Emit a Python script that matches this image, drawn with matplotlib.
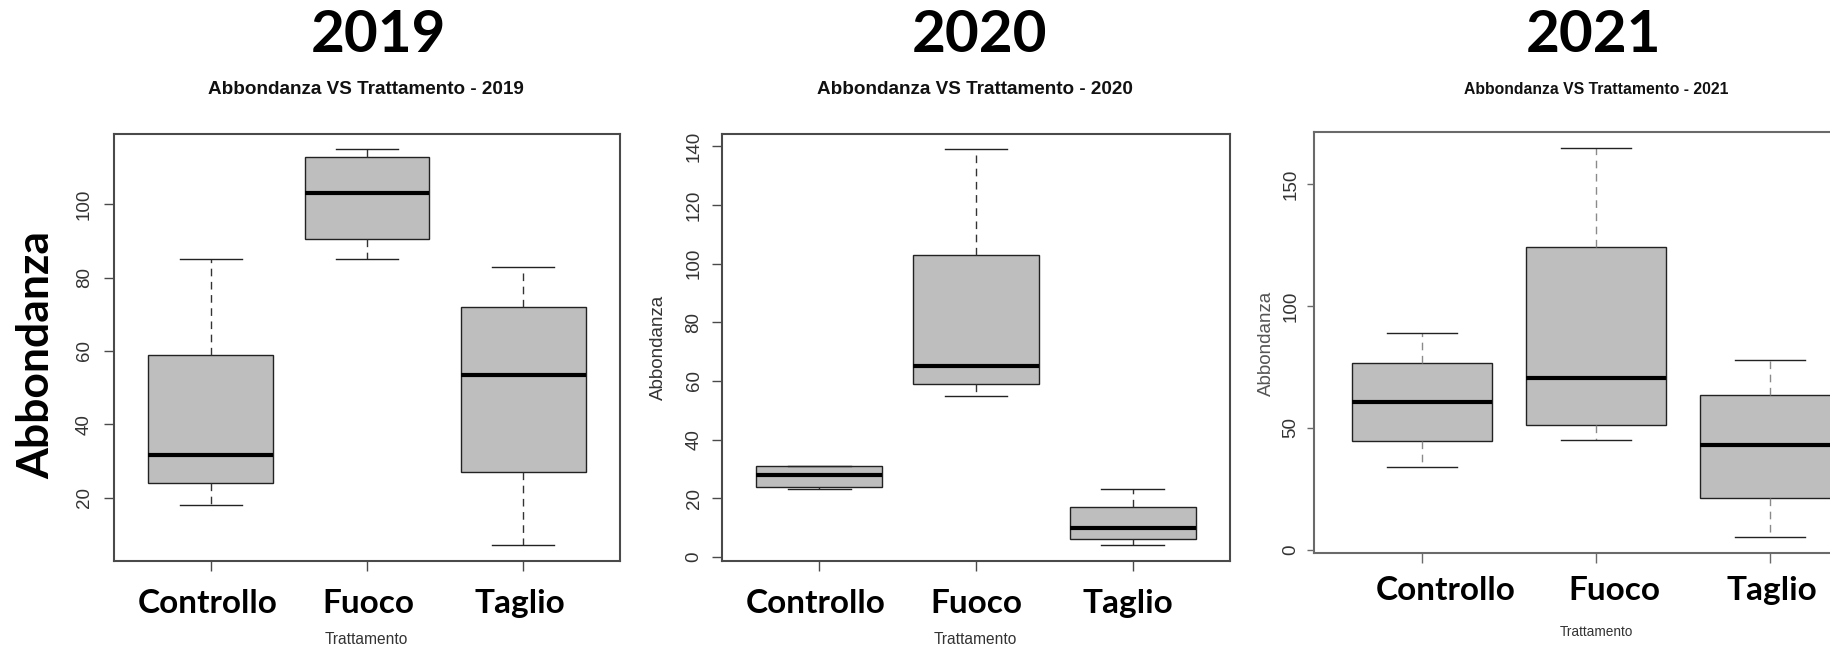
import matplotlib
matplotlib.use('Agg')
import matplotlib.pyplot as plt
from matplotlib import font_manager

# dati: [baffo inf, Q1, mediana, Q3, baffo sup]
years = ['2019', '2020', '2021']
categories = ['Controllo', 'Fuoco', 'Taglio']

box_2019 = [[18, 24, 31.5, 59, 85], [85, 90.5, 103, 113, 115], [7, 27, 53.5, 72, 83]]
box_2020 = [[23, 24, 28, 31, 31], [55, 59, 65, 103, 139], [4, 6, 10, 17, 23]]
box_2021 = [[34, 44.5, 60.5, 76.5, 89], [45, 51, 70.5, 124, 165], [5, 21, 43, 63.5, 78]]

ticks_2019 = [20, 40, 60, 80, 100]
ticks_2020 = [0, 20, 40, 60, 80, 100, 120, 140]
ticks_2021 = [0, 50, 100, 150]

W, H = 1830, 647
fig = plt.figure(figsize=(W / 100, H / 100), dpi=100)

names = {f.name for f in font_manager.fontManager.ttflist}
narrow = 'Liberation Sans Narrow' if 'Liberation Sans Narrow' in names else 'Liberation Sans'
big = 'Lato' if 'Lato' in names else 'DejaVu Sans'
# con il font stretto si puo' usare un corpo piu' grande
k = 1.14 if narrow == 'Liberation Sans Narrow' else 1.0
sub_fs = [13.6 * k, 13.6 * k, 11.3 * k]
trat_fs = [11.2 * k, 11.2 * k, 9.8 * k]

def px(x, y):
    return x / W, 1 - y / H

# (left, right, top, bottom) in pixel, centri titoli, etichette categorie
frames = [(114, 620, 133.5, 561), (722, 1230, 133.5, 561), (1314, 1878, 132, 553)]
title_x = [378, 979, 1593]
sub_x = [366, 975, 1596]
cat_x = [[208, 368, 520], [816, 976, 1128], [1446, 1614, 1772]]
cat_y = [613, 613, 600]
tratt_y = [640, 640, 632]
frame_col = ['#4a4a4a', '#4a4a4a', '#6a6a6a']
whisk_col = ['#333333', '#333333', '#8a8a8a']
ypad = [8.3, 7, 5.4]
ylen = [7, 7, 5]

for i, (year, boxes, ticks) in enumerate(zip(years, [box_2019, box_2020, box_2021],
                                               [ticks_2019, ticks_2020, ticks_2021])):
    l, r, t, b = frames[i]
    ax = fig.add_axes([l / W, 1 - b / H, (r - l) / W, (b - t) / H])
    stats = []
    for lab, (lo, q1, med, q3, hi) in zip(categories, boxes):
        stats.append(dict(label=lab, whislo=lo, q1=q1, med=med, q3=q3, whishi=hi, fliers=[]))
    ax.bxp(stats, positions=[1, 2, 3], widths=0.8, capwidths=0.4, patch_artist=True,
           boxprops=dict(facecolor='#bebebe', edgecolor='#222222', linewidth=1.0),
           medianprops=dict(color='black', linewidth=3.0, solid_capstyle='butt'),
           whiskerprops=dict(color=whisk_col[i], linewidth=1.0, linestyle=(0, (5.5, 4))),
           capprops=dict(color='#222222', linewidth=1.0),
           manage_ticks=False)
    lo = min(s[0] for s in boxes)
    hi = max(s[4] for s in boxes)
    ext = (hi - lo) * 0.04
    ax.set_ylim(lo - ext, hi + ext)
    ax.set_xlim(0.38, 3.62)
    ax.set_xticks([1, 2, 3])
    ax.set_xticklabels([])
    ax.set_yticks(ticks)
    ax.set_yticklabels([str(v) for v in ticks], rotation=90, va='center',
                       fontfamily='Liberation Sans', fontsize=13.5, color='#333333')
    ax.tick_params(axis='y', length=ylen[i], width=1.0, color=frame_col[i], pad=ypad[i])
    ax.tick_params(axis='x', length=7, width=1.0, color=frame_col[i])
    for sp in ax.spines.values():
        sp.set_color(frame_col[i])
        sp.set_linewidth(1.5)

    # titolo grande e sottotitolo
    fig.text(*px(title_x[i], 36), year, ha='center', va='center',
             fontfamily=big, fontweight='bold', fontsize=42)
    fig.text(*px(sub_x[i], 89), 'Abbondanza VS Trattamento - ' + year, ha='center', va='center',
             fontfamily=narrow, fontweight='bold', fontsize=sub_fs[i], color='#111111')
    for x, lab in zip(cat_x[i], categories):
        fig.text(*px(x, cat_y[i]), lab, ha='center', va='baseline',
                 fontfamily=big, fontweight='bold', fontsize=24)
    fig.text(*px(sub_x[i], tratt_y[i]), 'Trattamento', ha='center', va='center',
             fontfamily=narrow, fontsize=trat_fs[i], color='#333333')

fig.text(*px(36, 355), 'Abbondanza', rotation=90, ha='center', va='center',
         fontfamily=big, fontweight='bold', fontsize=32)
fig.text(*px(658, 347), 'Abbondanza', rotation=90, ha='center', va='center',
         fontfamily='Liberation Sans', fontsize=13.5, color='#333333')
fig.text(*px(1266, 343), 'Abbondanza', rotation=90, ha='center', va='center',
         fontfamily='Liberation Sans', fontsize=13.5, color='#555555')

fig.savefig('out.png', dpi=100)
